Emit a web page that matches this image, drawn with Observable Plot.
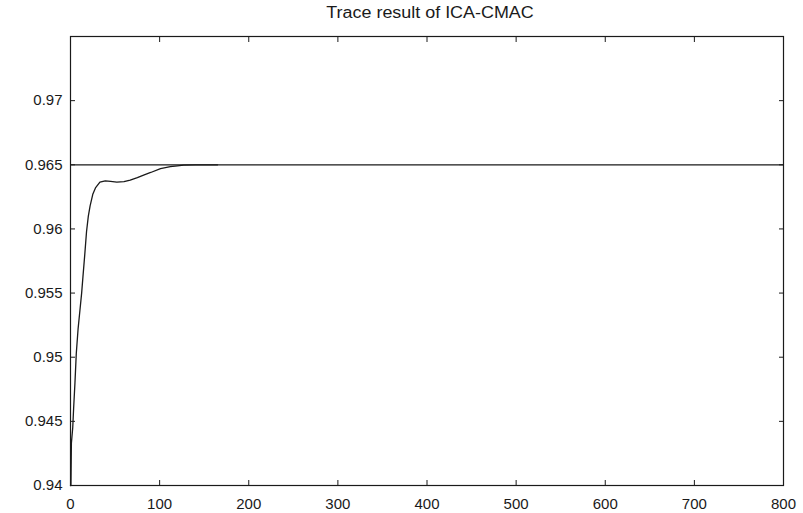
<!DOCTYPE html>
<html>
<head>
<meta charset="utf-8">
<script src="https://cdn.jsdelivr.net/npm/d3@7"></script>
<script src="https://cdn.jsdelivr.net/npm/@observablehq/plot@0.6"></script>
<style>
  html, body { margin: 0; padding: 0; background: #fff; }
  #chart svg { display: block; }
</style>
</head>
<body>
<div id="chart"></div>
<script>
// Tracking response of the ICA-CMAC controller (time step vs. output)
const title = "Trace result of ICA-CMAC";

const steps = [0, 0.5, 1, 2.5, 3.5, 5, 6.5, 8.5, 10.5, 12.5, 14, 16, 18, 20, 22, 25, 28, 33, 39, 45, 52, 60, 67, 75, 82, 90, 101, 112, 120, 127, 140, 152, 165];
const output = [0.94, 0.94, 0.9433, 0.9445, 0.946, 0.948, 0.9503, 0.9522, 0.9536, 0.955, 0.9563, 0.958, 0.9598, 0.961, 0.9618, 0.9627, 0.9632, 0.96365, 0.96375, 0.9637, 0.96365, 0.96368, 0.9638, 0.964, 0.9642, 0.9644, 0.9647, 0.96485, 0.96492, 0.96497, 0.965, 0.965, 0.965];

// Set-point reference
const reference = 0.965;
const referenceSpan = [0, 800];

const xTicks = [0, 100, 200, 300, 400, 500, 600, 700, 800];
const yTicks = [0.94, 0.945, 0.95, 0.955, 0.96, 0.965, 0.97];
const yTickLabels = ["0.94", "0.945", "0.95", "0.955", "0.96", "0.965", "0.97"];

const trace = steps.map((t, i) => ({t, v: output[i]}));
const refLine = referenceSpan.map(t => ({t, v: reference}));

const ink = "#1a1a1a";
const font = "'Liberation Sans', Arial, sans-serif";

const chart = Plot.plot({
  width: 803,
  height: 513,
  marginLeft: 70,
  marginRight: 20,
  marginTop: 36,
  marginBottom: 28,
  style: {fontFamily: font, fontSize: "15px", color: ink, background: "#fff"},
  x: {domain: [0, 800], ticks: xTicks},
  y: {domain: [0.94, 0.975], ticks: yTicks},
  marks: [
    Plot.line(refLine, {x: "t", y: "v", stroke: ink, strokeWidth: 1.2}),
    Plot.line(trace, {x: "t", y: "v", stroke: ink, strokeWidth: 1.3}),
    Plot.frame({stroke: ink, strokeWidth: 1.2}),
    // inward ticks on all four sides, labels on left and bottom
    Plot.axisY(yTicks, {anchor: "left", tickSize: -5, tickPadding: 13, tickFormat: (d, i) => yTickLabels[i], label: null, stroke: ink, fill: ink}),
    Plot.axisY(yTicks, {anchor: "right", tickSize: -5, tickFormat: () => "", label: null, stroke: ink}),
    Plot.axisX(xTicks, {anchor: "bottom", tickSize: -5, tickPadding: 18, label: null, stroke: ink, fill: ink}),
    Plot.axisX(xTicks, {anchor: "top", tickSize: -5, tickFormat: () => "", label: null, stroke: ink}),
    Plot.text([title], {frameAnchor: "top", dy: -24, dx: 3, text: d => d, fontSize: 16, fill: ink, lineAnchor: "middle", className: "chart-title"})
  ]
});

document.getElementById("chart").appendChild(chart);

// widen the title glyphs slightly
chart.querySelectorAll(".chart-title text").forEach(t => {
  const len = t.getComputedTextLength();
  if (len > 0) {
    t.setAttribute("textLength", (len * 1.12).toFixed(1));
    t.setAttribute("lengthAdjust", "spacingAndGlyphs");
  }
});
</script>
</body>
</html>
